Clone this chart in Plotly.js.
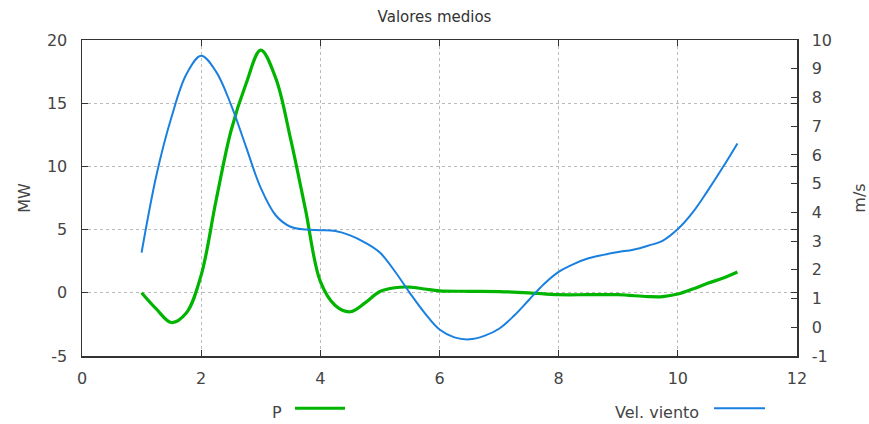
<!DOCTYPE html>
<html><head><meta charset="utf-8">
<script src="https://cdn.plot.ly/plotly-3.0.1.min.js"></script>
<style>html,body{margin:0;padding:0;background:#fff}#chart{width:869px;height:424px}</style>
</head><body><div id="chart"></div>
<script>
const xP = [1,1.25,1.5,1.75,2,2.25,2.5,2.75,3,3.25,3.5,3.75,4,4.25,4.5,4.75,5,5.25,5.5,5.75,6,6.5,7,7.5,8,8.5,9,9.5,9.75,10,10.25,10.5,10.75,11];
const P = [0,-1.3,-2.35,-1.6,1.4,7.3,12.8,16.5,19.2,17,12.2,6.6,0.9,-1.0,-1.5,-0.8,0.1,0.4,0.45,0.3,0.15,0.12,0.1,0,-0.15,-0.15,-0.15,-0.3,-0.3,-0.1,0.3,0.75,1.15,1.65];
const xV = [1,1.25,1.5,1.75,2,2.25,2.5,2.75,3,3.25,3.5,3.75,4,4.25,4.5,4.75,5,5.25,5.5,5.75,6,6.25,6.5,6.75,7,7.25,7.5,7.75,8,8.25,8.5,8.75,9,9.25,9.5,9.75,10,10.25,10.5,10.75,11];
const V = [2.6,5.3,7.3,8.8,9.45,8.9,7.75,6.3,4.85,3.9,3.5,3.4,3.38,3.35,3.2,2.95,2.6,1.95,1.2,0.5,-0.08,-0.35,-0.42,-0.3,-0.05,0.4,0.95,1.5,1.93,2.2,2.4,2.52,2.62,2.7,2.84,3.02,3.42,4.0,4.75,5.55,6.4];
const xTicks = [0,2,4,6,8,10,12];
const yTicks = [-5,0,5,10,15,20];
const y2Ticks = [-1,0,1,2,3,4,5,6,7,8,9,10];
const names = ['P','Vel. viento'];
const colors = ['#00b400','#1a80e0'];

const font = {family:'DejaVu Sans, Verdana, sans-serif', size:16, color:'#444'};
const traces = [
  {x:xP, y:P, name:names[0], type:'scatter', mode:'lines', line:{color:colors[0], width:3.2, shape:'spline', smoothing:1}, yaxis:'y'},
  {x:xV, y:V, name:names[1], type:'scatter', mode:'lines', line:{color:colors[1], width:2, shape:'spline', smoothing:1}, yaxis:'y2'}
];
const axBase = {showline:true, linecolor:'#333', linewidth:1.5, ticks:'inside', ticklen:6, tickcolor:'#333', zeroline:false, tickfont:font};
const layout = {
  width:869, height:424,
  margin:{l:82, r:72, t:40, b:68},
  paper_bgcolor:'#fff', plot_bgcolor:'#fff',
  showlegend:false,
  font:font,
  title:{text:'Valores medios', x:0.5, xanchor:'center', y:0.96, yanchor:'middle', font:{family:font.family, size:15, color:'#333'}},
  xaxis:Object.assign({}, axBase, {range:[0,12], tickvals:xTicks, ticktext:xTicks.map(String), ticklabelstandoff:7, mirror:'ticks', showgrid:true, gridcolor:'#bbb', griddash:'dot', gridwidth:1}),
  yaxis:Object.assign({}, axBase, {range:[-5,20], tickvals:yTicks, ticktext:yTicks.map(String), ticklabelstandoff:10, mirror:'ticks', showgrid:true, gridcolor:'#bbb', griddash:'dot', gridwidth:1,
    title:{text:'MW', font:font, standoff:12}}),
  yaxis2:Object.assign({}, axBase, {range:[-1,10], tickvals:y2Ticks, ticktext:y2Ticks.map(String), ticklabelstandoff:10, overlaying:'y', side:'right', showgrid:false,
    title:{text:'m/s', font:font, standoff:26}}),
  annotations:[
    {xref:'paper', yref:'paper', x:(284-82)/715, y:-0.18, text:names[0], showarrow:false, xanchor:'right', yanchor:'middle', font:font},
    {xref:'paper', yref:'paper', x:(701-82)/715, y:-0.18, text:names[1], showarrow:false, xanchor:'right', yanchor:'middle', font:font}
  ],
  shapes:[
    {type:'line', xref:'paper', yref:'paper', x0:(295-82)/715, x1:(345-82)/715, y0:-0.165, y1:-0.165, line:{color:colors[0], width:3}},
    {type:'line', xref:'paper', yref:'paper', x0:(714-82)/715, x1:(765-82)/715, y0:-0.165, y1:-0.165, line:{color:colors[1], width:2}}
  ]
};
Plotly.newPlot('chart', traces, layout, {displayModeBar:false, staticPlot:true});
</script></body></html>
